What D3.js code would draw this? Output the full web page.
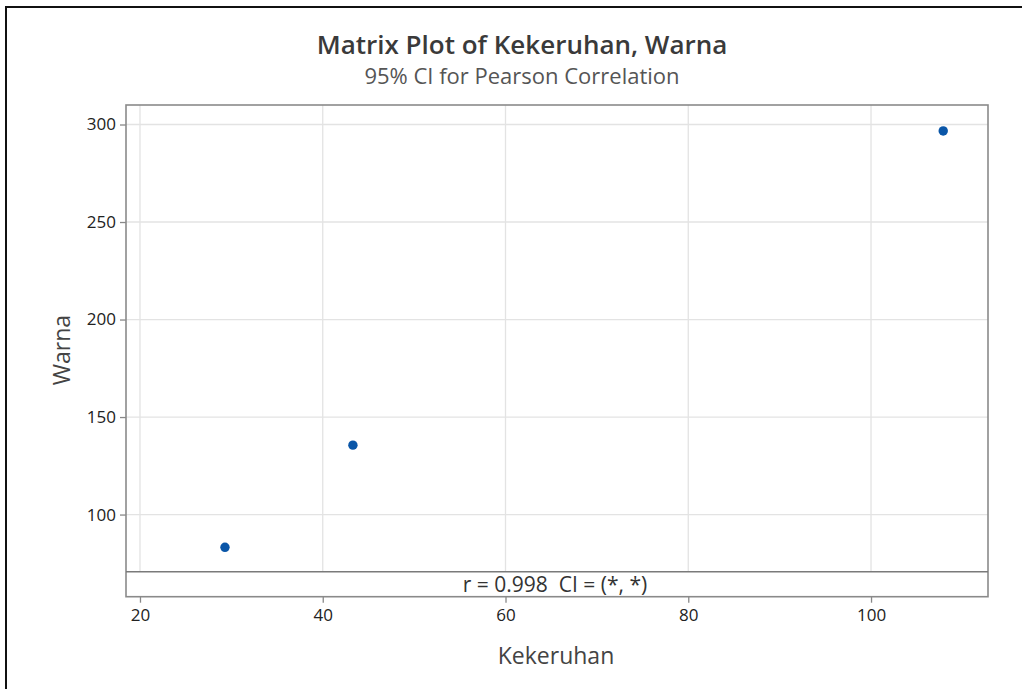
<!DOCTYPE html>
<html><head><meta charset="utf-8">
<script src="https://cdn.jsdelivr.net/npm/d3@7"></script>
<style>body{margin:0;background:#fff}svg{display:block}text{font-family:"Open Sans","Noto Sans",sans-serif}</style>
</head><body>
<script>
const kekeruhan = [29.3, 43.3, 107.9];
const warna = [83.2, 135.6, 296.7];
const xTicks = [20, 40, 60, 80, 100];
const yTicks = [100, 150, 200, 250, 300];
const title = "Matrix Plot of Kekeruhan, Warna";
const subtitle = "95% CI for Pearson Correlation";
const xLabel = "Kekeruhan", yLabel = "Warna";
const corrText = "r = 0.998  CI = (*, *)";

const W = 1022, H = 689;
const svg = d3.select("body").append("svg").attr("width", W).attr("height", H);
// outer frame
svg.append("path").attr("d", `M6,${H} V7 H${W}`).attr("fill","none").attr("stroke","#111").attr("stroke-width",2);

const L = 126, R = 988, T = 105, S = 571.7, B = 596.7;
const x = d3.scaleLinear().domain([18.47, 112.8]).range([L, R]);
const y = d3.scaleLinear().domain([70.7, 310]).range([S, T]);

// grid
svg.append("g").selectAll("line").data(xTicks).join("line")
  .attr("x1", d => x(d)).attr("x2", d => x(d)).attr("y1", T).attr("y2", S)
  .attr("stroke", "#e3e3e3").attr("stroke-width", 1.3);
svg.append("g").selectAll("line").data(yTicks).join("line")
  .attr("y1", d => y(d)).attr("y2", d => y(d)).attr("x1", L).attr("x2", R)
  .attr("stroke", "#e3e3e3").attr("stroke-width", 1.3);

// axes
const xa = svg.append("g").attr("transform", `translate(0,${B})`)
  .call(d3.axisBottom(x).tickValues(xTicks).tickSize(6).tickPadding(6));
const ya = svg.append("g").attr("transform", `translate(${L},0)`)
  .call(d3.axisLeft(y).tickValues(yTicks).tickSize(6).tickPadding(4));
[xa, ya].forEach(a => {
  a.select(".domain").remove();
  a.selectAll(".tick line").attr("stroke", "#888").attr("stroke-width", 1.3);
  a.selectAll(".tick text").attr("fill", "#222").style("font-size", "17px").style("font-family", '"Open Sans",sans-serif');
});

// frame
svg.append("rect").attr("x", L).attr("y", T).attr("width", R - L).attr("height", B - T)
  .attr("fill", "none").attr("stroke", "#8a8a8a").attr("stroke-width", 1.6);
svg.append("line").attr("x1", L).attr("x2", R).attr("y1", S).attr("y2", S)
  .attr("stroke", "#7a7a7a").attr("stroke-width", 1.6);

// points
svg.append("g").selectAll("circle").data(kekeruhan.map((k, i) => [k, warna[i]])).join("circle")
  .attr("cx", d => x(d[0])).attr("cy", d => y(d[1])).attr("r", 4.7).attr("fill", "#0a56a8");

// texts
svg.append("text").attr("x", 522).attr("y", 54).attr("text-anchor", "middle")
  .attr("fill", "#3a3a3a").style("font-size", "26px").style("font-weight", 600).text(title);
svg.append("text").attr("x", 522).attr("y", 84).attr("text-anchor", "middle")
  .attr("fill", "#555").style("font-size", "22px").text(subtitle);
svg.append("text").attr("x", 556).attr("y", 664).attr("text-anchor", "middle")
  .attr("fill", "#444").style("font-size", "23px").text(xLabel);
svg.append("text").attr("transform", "translate(70,350) rotate(-90)").attr("text-anchor", "middle")
  .attr("fill", "#444").style("font-size", "23px").text(yLabel);
svg.append("text").attr("x", 555).attr("y", 592).attr("text-anchor", "middle")
  .attr("xml:space", "preserve").style("white-space", "pre")
  .attr("fill", "#333").style("font-size", "21px").text(corrText);
</script>
</body></html>
